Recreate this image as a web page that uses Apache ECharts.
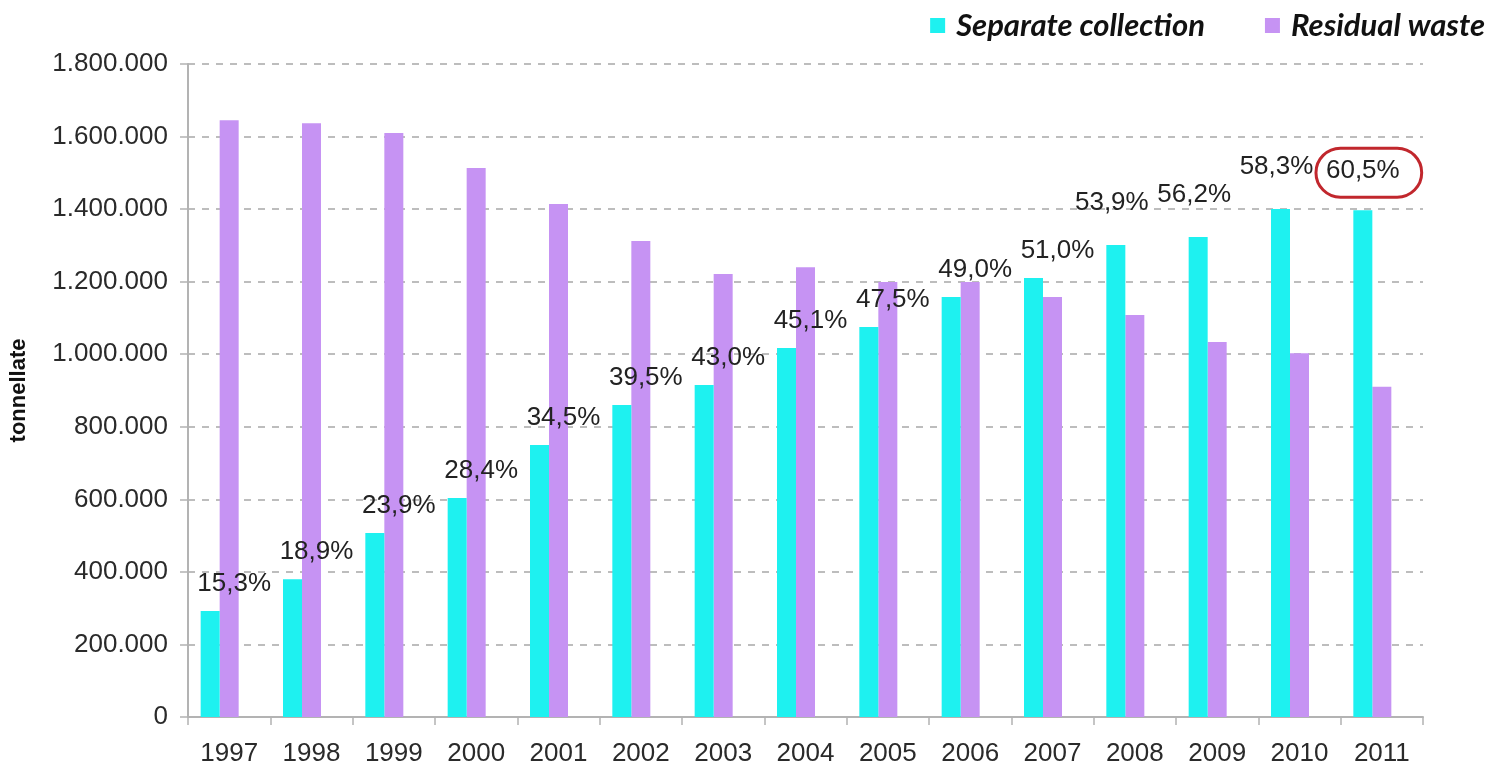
<!DOCTYPE html>
<html>
<head>
<meta charset="utf-8">
<script src="https://cdn.jsdelivr.net/npm/echarts@6/dist/echarts.min.js"></script>
<style>
  html, body { margin: 0; padding: 0; background: #ffffff; }
  #chart { width: 1506px; height: 774px; }
</style>
</head>
<body>
<div id="chart"></div>
<script>
// Municipal waste (tonnes) by year: separate collection vs residual waste
const years = ['1997', '1998', '1999', '2000', '2001', '2002', '2003', '2004',
               '2005', '2006', '2007', '2008', '2009', '2010', '2011'];
const separateCollection = [292000, 380000, 507000, 604000, 750000, 860000, 915000, 1017000,
                            1075000, 1158000, 1210000, 1301000, 1323000, 1400000, 1397000];
const residualWaste = [1645000, 1637000, 1610000, 1513000, 1414000, 1312000, 1221000, 1240000,
                       1199000, 1199000, 1158000, 1108000, 1034000, 1003000, 910000];
const shareLabels = ['15,3%', '18,9%', '23,9%', '28,4%', '34,5%', '39,5%', '43,0%', '45,1%',
                     '47,5%', '49,0%', '51,0%', '53,9%', '56,2%', '58,3%', '60,5%'];
const yTicks = [0, 200000, 400000, 600000, 800000, 1000000, 1200000, 1400000, 1600000, 1800000];

const CYAN = '#1ef1f0';
const LILAC = '#c693f3';
const TICK_FONT = '"Liberation Sans", Arial, sans-serif';

function formatThousands(v) {
  return String(v).replace(/\B(?=(\d{3})+(?!\d))/g, '.');
}

const lastIdx = years.length - 1;

// Separate-collection bars carry the share-of-total label above them;
// the last few labels sit higher and slightly left, the latest one is circled.
const separateData = separateCollection.map((v, i) => {
  if (i === lastIdx) {
    return {
      value: v,
      label: {
        formatter: '{c|' + shareLabels[i] + '}',
        offset: [6, -8],
        padding: [10, 22, 13, 10],
        borderColor: '#c1272d',
        borderWidth: 3,
        borderRadius: 26
      }
    };
  }
  if (i >= 11) {
    return { value: v, label: { offset: [-4, -24] } };
  }
  return v;
});

const chart = echarts.init(document.getElementById('chart'), null, { renderer: 'canvas' });

chart.setOption({
  backgroundColor: '#ffffff',
  animation: false,
  legend: {
    data: ['Separate collection', 'Residual waste'],
    right: 16,
    top: 5,
    icon: 'rect',
    itemWidth: 15,
    itemHeight: 15,
    itemGap: 60,
    textStyle: {
      fontFamily: 'Lato, "Open Sans", sans-serif',
      fontSize: 31,
      fontWeight: 'bold',
      fontStyle: 'italic',
      color: '#111',
      padding: [0, 0, 0, 6]
    }
  },
  grid: { left: 187, right: 83, top: 64, bottom: 57, containLabel: false },
  xAxis: {
    type: 'category',
    data: years,
    axisLine: { lineStyle: { color: '#b3b3b3', width: 2 } },
    axisTick: { show: true, length: 8, alignWithLabel: false, lineStyle: { color: '#b3b3b3', width: 1.5 } },
    axisLabel: { margin: 24, fontFamily: TICK_FONT, fontSize: 26, color: '#2a2a2a' },
    splitLine: { show: false }
  },
  yAxis: {
    type: 'value',
    min: 0,
    max: yTicks[yTicks.length - 1],
    interval: yTicks[1] - yTicks[0],
    name: 'tonnellate',
    nameLocation: 'middle',
    nameGap: 158,
    nameTextStyle: { fontFamily: TICK_FONT, fontSize: 22, fontWeight: 'bold', color: '#111' },
    axisLine: { show: true, lineStyle: { color: '#b3b3b3', width: 2 } },
    axisTick: { show: true, length: 8, lineStyle: { color: '#b3b3b3', width: 1.5 } },
    axisLabel: {
      margin: 20,
      fontFamily: TICK_FONT,
      fontSize: 26,
      color: '#2a2a2a',
      formatter: v => formatThousands(v)
    },
    splitLine: { show: true, lineStyle: { color: '#a8a8a8', width: 1.5, type: [7, 7] } }
  },
  series: [
    {
      name: 'Separate collection',
      type: 'bar',
      barWidth: 19,
      barGap: '0%',
      data: separateData,
      itemStyle: { color: CYAN },
      label: {
        show: true,
        position: 'top',
        distance: 5,
        offset: [24, -9],
        fontFamily: TICK_FONT,
        fontSize: 26,
        color: '#222',
        formatter: p => shareLabels[p.dataIndex],
        rich: { c: { fontFamily: TICK_FONT, fontSize: 26, color: '#222' } }
      },
      z: 3
    },
    {
      name: 'Residual waste',
      type: 'bar',
      barWidth: 19,
      barGap: '0%',
      data: residualWaste,
      itemStyle: { color: LILAC },
      z: 2
    },
    {
      // empty slot that keeps the bar pair left of each category centre
      name: 'slot',
      type: 'bar',
      barWidth: 19,
      barGap: '0%',
      silent: true,
      data: years.map(() => null)
    }
  ]
});
</script>
</body>
</html>
